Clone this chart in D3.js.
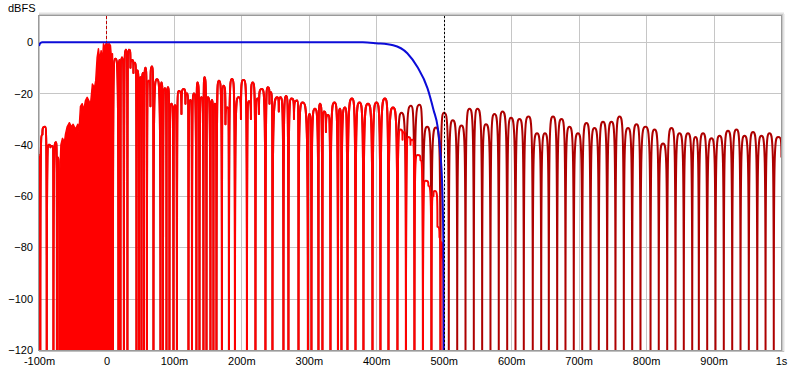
<!DOCTYPE html>
<html>
<head>
<meta charset="utf-8">
<script src="https://cdn.jsdelivr.net/npm/d3@7/dist/d3.min.js"></script>
<style>
  body { margin: 0; background: #fff; }
  text { font-family: "Liberation Sans", Arial, sans-serif; font-size: 11px; fill: #000; }
</style>
</head>
<body>
<div id="canvas"></div>
<script>
/* chart size */
let svgWidth = 800;
let svgHeight = 373;
let plot = { left: 39, right: 781, top: 16, bottom: 350 };

/* axis ticks */
let xTicks = [-100, 0, 100, 200, 300, 400, 500, 600, 700, 800, 900, 1000];
let xTickLabels = ["-100m", "0", "100m", "200m", "300m", "400m", "500m", "600m", "700m", "800m", "900m", "1s"];
let yTicks = [0, -20, -40, -60, -80, -100, -120];

/* impulse, [ms, dBFS], peaks and notches */
let earlyRing = [[-99.3,-44],[-98.1,-120],[-94.9,-36],[-91.2,-33],[-88.5,-120],[-85.2,-40],[-83.0,-41],
  [-80.5,-40.5],[-78.6,-120],[-74.9,-39],[-73.4,-120],[-71.9,-45],[-70.7,-61],[-69.7,-120]];

// the onset is so dense it renders as a solid block, this is its upper edge
let onsetEnvelope = [[-69.7,-55],[-67.5,-40],[-65.2,-37.5],[-62.3,-39],[-60.8,-36],[-58.3,-33],[-54.9,-31.4],
  [-51.9,-33],[-49.4,-32],[-45.9,-34],[-42.5,-32],[-40.8,-35],[-38.5,-25],[-36.0,-24],[-33.7,-26.5],
  [-31.1,-22.8],[-28.6,-21.5],[-26.2,-22.8],[-23.7,-24.4],[-20.8,-16.3],[-17.8,-17.8],[-15.9,-15],
  [-13.8,-5.9],[-11.9,-2.6],[-9.9,-7.2],[-7.9,-3.3],[-5.9,-7.2],[-4.4,-0.6],[-3.0,-3],[-1.5,-1],
  [0.4,0],[2.2,-2],[3.7,-0.5],[5.9,-1.3],[7.4,-6],[8.9,-4.5],[9.6,-12]];

let body = [[9.6,-120],[13.3,-6.5],[17.8,-120],[19.3,-7],[20.8,-120],[23.0,-6],[25.9,-120],[28.9,-3],
  [31.1,-120],[33.4,-3],[35.6,-10],[38.5,-7],[40.0,-12],[42.3,-8],[44.5,-120],[46.0,-11],[48.2,-120],
  [50.4,-13.7],[51.9,-120],[54.1,-12],[55.6,-120],[57.8,-10],[60.0,-120],[62.7,-15],[65.2,-25],[67.5,-9.5],
  [69.7,-120],[74.9,-14.5],[80.1,-120],[81.5,-15.7],[83.8,-120],[86.7,-18],[89.0,-120],[91.2,-17.6],
  [93.4,-120],[96.4,-24],[99.3,-120],[101.6,-24.6],[104.5,-120],[107.2,-19],[111.2,-28],[114.6,-18.3],
  [117.1,-24],[119.6,-20],[121.6,-120],[124.5,-22.5],[126.8,-120],[129.7,-20],[133.4,-120],[134.9,-15.7],
  [137.9,-120],[140.8,-21.5],[143.8,-120],[145.3,-13.7],[148.3,-120],[150.5,-21.5],[154.2,-120],
  [156.4,-22.5],[158.6,-120],[160.9,-24],[163.1,-120],[166.8,-15],[171.2,-120],[173.5,-17],[176.4,-32],
  [179.4,-25.5],[181.6,-120],[186.1,-14.4],[190.5,-120],[195.7,-21.5],[199.4,-30],[203.6,-14.7],
  [208.3,-120],[211.3,-23],[214.2,-30],[216.9,-15.7],[220.9,-120],[223.9,-22],[226.1,-28],[230.5,-18.3],
  [235.7,-120],[239.4,-17.6],[241.7,-24],[243.9,-19.5],[246.1,-120],[253.1,-21.5],[255.5,-27],[258.0,-21.5],
  [262.4,-120],[266.4,-21],[269.8,-120],[274.3,-22],[278.0,-30],[282.7,-22.7],[284.7,-120],[290.6,-23.5],
  [298.7,-120],[301.0,-28],[303.9,-120],[309.1,-26],[314.3,-120],[316.5,-24],[320.2,-120],[322.5,-27],
  [325.4,-35],[328.7,-28.4],[332.1,-120],[338.0,-23.5],[343.2,-120],[346.2,-26],[348.4,-120],[353.6,-25.5],
  [357.3,-120],[364.0,-22],[369.2,-120],[375.1,-23.5],[381.0,-120],[387.7,-24],[394.4,-120],[400.3,-23.5],
  [406.2,-120],[412.9,-22],[418.1,-120],[424.8,-25.5],[431.4,-120],[437.4,-27.5],[444.0,-120],[451.4,-24.8],
  [456.6,-120],[464.1,-24.4],[469.2,-120],[475.5,-33],[481.8,-120],[488.5,-33.3],[495.2,-120],[500.4,-27.5],
  [507.5,-120],[513.4,-30.4],[520.0,-120],[526.3,-32.5],[532.3,-120],[538.2,-26],[544.6,-120],[550.0,-26],
  [557.0,-120],[562.6,-32],[569.3,-120],[575.2,-28],[581.6,-120],[587.1,-27],[594.1,-120],[599.7,-29.5],
  [606.4,-120],[612.3,-30],[618.7,-120],[625.7,-29],[632.0,-120]];

let tail = [[638.3,-35.5],[644.5,-120],[650.1,-35.5],[655.8,-120],[662.0,-29],[668.2,-120],[674.6,-30],
  [680.5,-120],[686.4,-33],[692.8,-120],[699.0,-35.5],[705.3,-120],[711.6,-31.5],[717.6,-120],[723.5,-33.5],
  [729.9,-120],[736.1,-31],[742.3,-120],[748.7,-31],[754.6,-120],[760.6,-29],[767.0,-120],[773.2,-33.5],
  [779.4,-120],[785.8,-32],[791.7,-120],[799.1,-33],[806.6,-120],[812.5,-34],[818.8,-120],[825.1,-39.5],
  [831.3,-120],[837.7,-33.5],[843.6,-120],[849.5,-35.5],[855.9,-120],[862.1,-35.5],[868.4,-120],[873.3,-37],
  [878.2,-120],[884.4,-35.5],[890.6,-120],[897.0,-37.5],[902.9,-120],[908.9,-36.5],[915.2,-120],[921.4,-34.5],
  [927.7,-120],[934.0,-34],[940.0,-120],[945.9,-36.5],[952.3,-120],[958.5,-35],[964.8,-120],[971.1,-36.5],
  [977.1,-120],[982.9,-35.5],[989.3,-120],[995.6,-37],[1000.7,-45]];

// windowed impulse where it leaves the full one
let windowedDecay = [[431.4,-120],[435.9,-34],[438.9,-38],[441.8,-35],[444.0,-120],[447.8,-37],[450.7,-40],
  [453.7,-38],[456.6,-120],[461.1,-44],[465.5,-46],[469.2,-120],[472.9,-54],[477.3,-56],[481.8,-120],
  [484.8,-60],[487.0,-58],[490.7,-72],[493.7,-76],[495.2,-120],[496.6,-78],[498.1,-84],[499.6,-120]];

/* window, [ms, dB] */
let windowPts = [[-100,-1.5],[-98,-0.3],[-95,0],[380,0],[400,-0.4],[425,-1.2],[446,-4.3],[461,-9.7],
  [476,-18],[485,-26.5],[491,-33],[495,-43],[498,-58],[499.5,-80],[500,-125]];

let peakMarkMs = 0;
let windowEndMs = 500;

/* canvas */
let svg = d3.select("#canvas")
    .append("svg")
    .attr("width", svgWidth)
    .attr("height", svgHeight);

svg.append("rect")
    .attr("width", svgWidth).attr("height", svgHeight)
    .attr("fill", "#fff");

let xScale = d3.scaleLinear()
    .domain([-100, 1000])
    .range([plot.left, plot.right]);

let yScale = d3.scaleLinear()
    .domain([-120, 10.2])
    .range([plot.bottom, plot.top]);

/* frame shadow */
let shadow = svg.append("g").attr("fill", "none");
[["#c8c8c8", 0.5], ["#e2e2e2", 1.5], ["#f0f0f0", 2.5]].forEach(function(s) {
    shadow.append("line")
        .attr("x1", plot.right + 1 + s[1]).attr("x2", plot.right + 1 + s[1])
        .attr("y1", plot.top - 2).attr("y2", plot.bottom + 2)
        .attr("stroke", s[0]);
    shadow.append("line")
        .attr("x1", plot.left).attr("x2", plot.right + 3)
        .attr("y1", plot.top - 1 - s[1]).attr("y2", plot.top - 1 - s[1])
        .attr("stroke", s[0]);
});
shadow.append("line")
    .attr("x1", plot.left).attr("x2", plot.right + 3)
    .attr("y1", plot.bottom + 1.5).attr("y2", plot.bottom + 1.5)
    .attr("stroke", "#c0c0c0");

/* grid */
let grid = svg.append("g").attr("stroke", "#c6c6c6").attr("stroke-width", 1);
grid.selectAll(".vgrid")
    .data(xTicks)
    .enter()
    .append("line")
    .attr("x1", d => Math.round(xScale(d)) + 0.5).attr("x2", d => Math.round(xScale(d)) + 0.5)
    .attr("y1", plot.top).attr("y2", plot.bottom);
grid.selectAll(".hgrid")
    .data(yTicks)
    .enter()
    .append("line")
    .attr("x1", plot.left).attr("x2", plot.right)
    .attr("y1", d => Math.round(yScale(d)) + 0.5).attr("y2", d => Math.round(yScale(d)) + 0.5);

/* clip to plot */
svg.append("clipPath").attr("id", "plotClip")
    .append("rect")
    .attr("x", plot.left).attr("y", plot.top)
    .attr("width", plot.right - plot.left).attr("height", plot.bottom - plot.top);

let traces = svg.append("g").attr("clip-path", "url(#plotClip)");

// dB lobes: steep sides into the notches, rounded tops
function curveLobe(context) {
    let x0, y0, n;
    return {
        areaStart: function() {},
        areaEnd: function() {},
        lineStart: function() { n = 0; },
        lineEnd: function() {},
        point: function(x, y) {
            x = +x; y = +y;
            if (n++ === 0) {
                context.moveTo(x, y);
            } else {
                let dx = x - x0;
                if (y < y0) {
                    context.bezierCurveTo(x0, y, x0 + 0.2 * dx, y, x, y);
                } else {
                    context.bezierCurveTo(x - 0.2 * dx, y0, x, y0, x, y);
                }
            }
            x0 = x; y0 = y;
        }
    };
}

let lobeLine = d3.line()
    .x(d => xScale(d[0]))
    .y(d => yScale(d[1]))
    .curve(curveLobe);

// full impulse (dark red), seen after the window closes
traces.append("path")
    .attr("d", lobeLine(earlyRing.concat(body, tail)))
    .attr("fill", "none")
    .attr("stroke", "#ad0000")
    .attr("stroke-width", 2)
    .attr("stroke-linejoin", "round");

// windowed impulse (red)
let windowedBody = body.filter(d => d[0] < windowedDecay[0][0]);
traces.append("path")
    .attr("d", lobeLine(earlyRing.concat(windowedBody, windowedDecay)))
    .attr("fill", "none")
    .attr("stroke", "#ff0000")
    .attr("stroke-width", 2)
    .attr("stroke-linejoin", "round");

traces.append("path")
    .attr("d", d3.area()
        .x(d => xScale(d[0]))
        .y0(yScale(-120) + 2)
        .y1(d => yScale(d[1]))(onsetEnvelope))
    .attr("fill", "#ff0000")
    .attr("stroke", "#ff0000")
    .attr("stroke-width", 1.5)
    .attr("stroke-linejoin", "round");

/* window */
traces.append("path")
    .attr("d", d3.line()
        .x(d => xScale(d[0]))
        .y(d => yScale(d[1]))
        .curve(d3.curveMonotoneX)(windowPts))
    .attr("fill", "none")
    .attr("stroke", "#0c0cd8")
    .attr("stroke-width", 2);

/* markers */
svg.append("line")
    .attr("x1", Math.round(xScale(peakMarkMs)) + 0.5).attr("x2", Math.round(xScale(peakMarkMs)) + 0.5)
    .attr("y1", plot.top).attr("y2", yScale(0))
    .attr("stroke", "#c00000")
    .attr("stroke-dasharray", "3,2");

svg.append("line")
    .attr("x1", Math.round(xScale(windowEndMs)) + 0.5).attr("x2", Math.round(xScale(windowEndMs)) + 0.5)
    .attr("y1", plot.top).attr("y2", plot.bottom)
    .attr("stroke", "#000")
    .attr("stroke-dasharray", "2,2");

/* frame */
svg.append("rect")
    .attr("x", plot.left - 0.5).attr("y", plot.top - 0.5)
    .attr("width", plot.right - plot.left + 1).attr("height", plot.bottom - plot.top + 1)
    .attr("fill", "none")
    .attr("stroke", "#9a9a9a");

/* axes */
let yAxis = svg.append("g")
    .attr("transform", `translate(${plot.left},0)`)
    .call(d3.axisLeft(yScale).tickValues(yTicks).tickSize(0).tickPadding(6));
yAxis.select(".domain").remove();

let xAxis = svg.append("g")
    .attr("transform", `translate(0,${plot.bottom})`)
    .call(d3.axisBottom(xScale).tickValues(xTicks)
        .tickFormat((d, i) => xTickLabels[i]).tickSize(0).tickPadding(7));
xAxis.select(".domain").remove();

svg.selectAll(".tick text")
    .attr("font-family", "'Liberation Sans', Arial, sans-serif")
    .attr("font-size", 11)
    .attr("fill", "#000");

svg.append("text")
    .attr("x", 8).attr("y", 12)
    .text("dBFS");
</script>
</body>
</html>
